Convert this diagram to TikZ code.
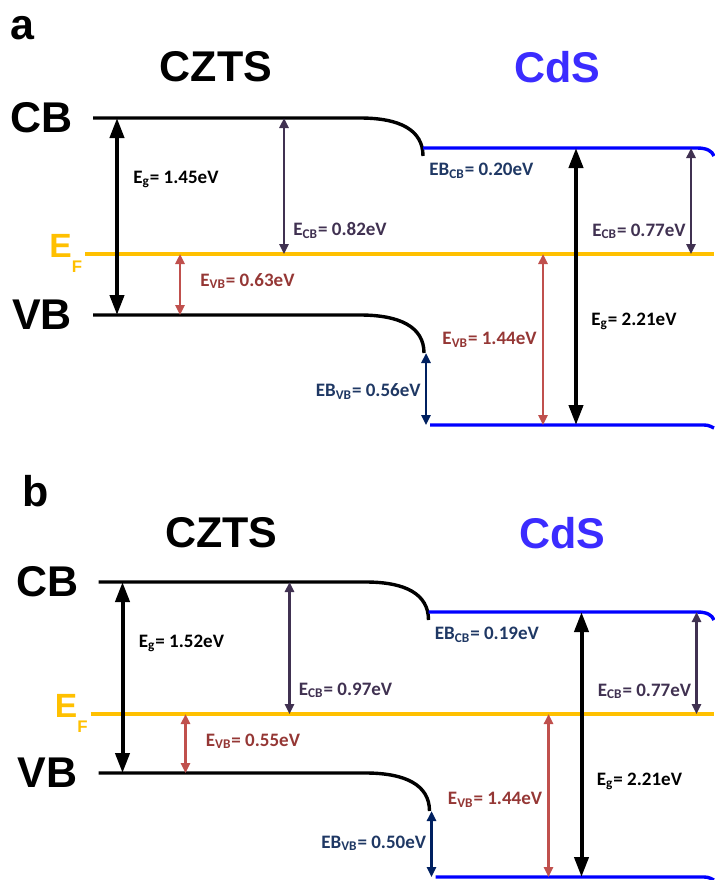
\documentclass[tikz,border=0pt]{standalone}
\usepackage{fontspec}
\setmainfont{Liberation Sans}
\newfontfamily\calib{Carlito}
\usetikzlibrary{arrows.meta}
\definecolor{efyellow}{HTML}{FFC000}
\definecolor{cdsblue}{HTML}{0000FF}
\definecolor{cdstitle}{HTML}{3B2CFF}
\definecolor{ecbpurple}{HTML}{403151}
\definecolor{evbred}{HTML}{C0504D}
\definecolor{evbtext}{HTML}{953735}
\definecolor{ebnavy}{HTML}{002060}
\definecolor{ebtext}{HTML}{1F3864}
\begin{document}
\begin{tikzpicture}[x=0.5pt,y=-0.5pt,
  level/.style={line width=1.7pt},
  gap/.style={line width=2pt,{Triangle[length=10pt,width=7pt]}-{Triangle[length=10pt,width=7pt]}},
  offs/.style={line width=1.2pt,{Triangle[length=5pt,width=4.5pt]}-{Triangle[length=5pt,width=4.5pt]}},
  lbl/.style={font=\calib\bfseries\fontsize{9.5}{10}\selectfont,inner sep=0pt},
  big/.style={font=\bfseries\fontsize{21.5}{22}\selectfont,inner sep=0pt}]
  \useasboundingbox (0,0) rectangle (714,880);
  % panel / x shift / CB, EF, VB of CZTS / CB, VB of CdS / title row / values
  \foreach \p/\dx/\ycb/\yef/\yvb/\ycs/\yvs/\yt/\eg/\ecb/\evb/\ebc/\ebv in
    {a/0/118/254/315/148/425/67/1.45/0.82/0.63/0.20/0.56,
     b/5.5/582/714/773/612/877/533/1.52/0.97/0.55/0.19/0.50} {
    % levels
    \coordinate (cb\p) at (0,\ycb);
    \coordinate (ef\p) at (0,\yef);
    \coordinate (vb\p) at (0,\yvb);
    \coordinate (cs\p) at (0,\ycs);
    \coordinate (vs\p) at (0,\yvs);
    \coordinate (vd\p) at (0,\yvb+38);
    \draw[level] (93+\dx,\ycb) -- (360+\dx,\ycb)
      .. controls (400+\dx,\ycb) and (423+\dx,\ycb+12) .. (423+\dx,\ycb+38);
    \draw[level] (93+\dx,\yvb) -- (360+\dx,\yvb)
      .. controls (400+\dx,\yvb) and (424+\dx,\yvb+12) .. (424+\dx,\yvb+38);
    \draw[level,cdsblue] (423+\dx,\ycs) -- (697,\ycs)
      .. controls (707,\ycs) and (712,\ycs+3) .. (714,\ycs+8);
    \draw[level,cdsblue] (430+\dx,\yvs) -- (700,\yvs)
      .. controls (708,\yvs) .. (714,\yvs+3);
    \draw[level,efyellow] (85+\dx,\yef) -- (714,\yef);
    % arrow columns
    \coordinate (xg\p) at (117+\dx,0);
    \coordinate (xv\p) at (180+\dx,0);
    \coordinate (xc\p) at (284+\dx,0);
    \coordinate (xe\p) at (426+\dx,0);
    \coordinate (xw\p) at (543+\dx,0);
    \coordinate (xh\p) at (576+\dx,0);
    \coordinate (xr\p) at (691+\dx,0);
    \draw[gap] (xg\p |- cb\p) -- (xg\p |- vb\p);
    \draw[offs,evbred] (xv\p |- ef\p) -- (xv\p |- vb\p);
    \draw[offs,ecbpurple] (xc\p |- cb\p) -- (xc\p |- ef\p);
    \draw[offs,ebnavy] (xe\p |- vd\p) -- (xe\p |- vs\p);
    \draw[offs,evbred] (xw\p |- ef\p) -- (xw\p |- vs\p);
    \draw[gap] (xh\p |- cs\p) -- (xh\p |- vs\p);
    \draw[offs,ecbpurple] (xr\p |- cs\p) -- (xr\p |- ef\p);
    % labels
    \node[lbl,anchor=west] (lg\p) at (133+\dx,\ycb+61) {E\textsubscript{g}= \eg eV};
    \node[lbl,anchor=west,ecbpurple] (lc\p) at (293+\dx,\yef-23.5) {E\textsubscript{CB}= \ecb eV};
    \node[lbl,anchor=west,evbtext] (lv\p) at (200+\dx,\yef+27) {E\textsubscript{VB}= \evb eV};
    \node[lbl,anchor=west,ebtext] (lbc\p) at (429+\dx,\ycs+23) {EB\textsubscript{CB}= \ebc eV};
    \node[lbl,anchor=west] (lh\p) at (591+\dx,\yef+67) {E\textsubscript{g}= 2.21eV};
    \node[lbl,anchor=east,ecbpurple] (lr\p) at (686+\dx,\yef-22.5) {E\textsubscript{CB}= 0.77eV};
    \node[lbl,anchor=east,evbtext] (lw\p) at (537+\dx,\yef+86) {E\textsubscript{VB}= 1.44eV};
    \node[lbl,anchor=east,ebtext] (lbv\p) at (421+\dx,\yvs-33.5) {EB\textsubscript{VB}= \ebv eV};
    % titles
    \node[big] (cz\p) at (216+\dx,\yt) {CZTS};
    \node[big,cdstitle] (cd\p) at (557+\dx,\yt) {CdS};
    \node[big] (cbl\p) at (42+\dx,\ycb) {CB};
    \node[big] (vbl\p) at (42+\dx,\yvb) {VB};
    \node[inner sep=0pt,anchor=base west,efyellow,font=\bfseries\fontsize{16.8}{17}\selectfont]
      (efl\p) at (49+\dx,\yef+3) {E\raisebox{-7.5pt}{\fontsize{8.4}{9}\selectfont F}};
  }
  \node[big] (pa) at (22,28) {a};
  \node[big] (pb) at (36,491) {b};
\end{tikzpicture}
\end{document}
